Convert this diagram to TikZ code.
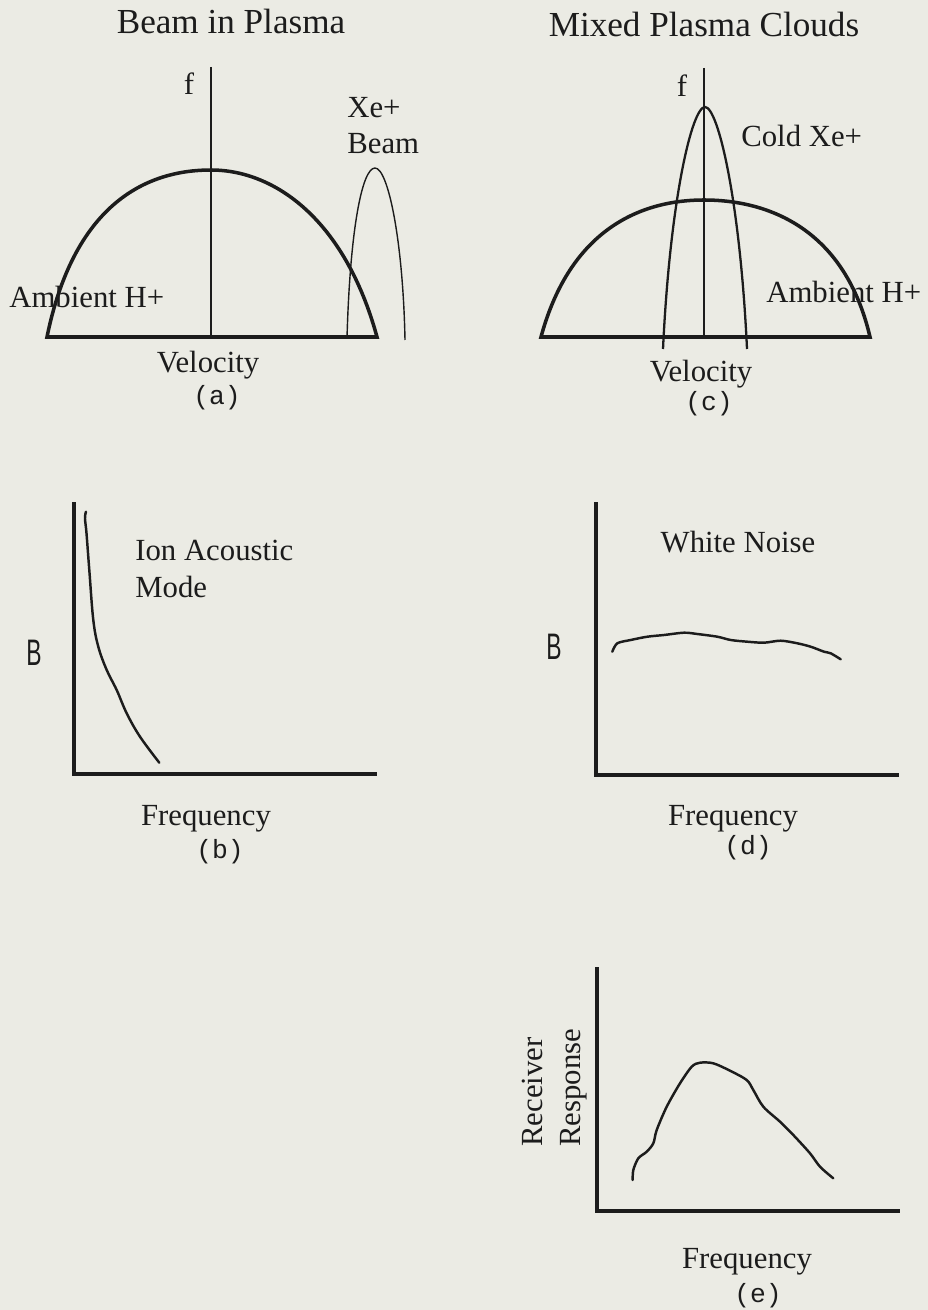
\documentclass[tikz,border=0pt]{standalone}
\usepackage{fontspec}
\setmainfont{Liberation Serif}
\newfontfamily\tagfont{Liberation Mono}
\newfontfamily\axfont[FakeStretch=0.62]{Liberation Sans}
\definecolor{paper}{RGB}{235,235,228}
\definecolor{ink}{RGB}{28,28,28}

\begin{document}
\begin{tikzpicture}[
    x=0.02cm, y=-0.02cm,
    ttl/.style={font=\fontsize{20}{24}\selectfont, inner sep=0pt, text=ink},
    lbl/.style={font=\fontsize{17.5}{21}\selectfont, inner sep=0pt, align=left, text=ink},
    tag/.style={font=\tagfont\fontsize{15}{17}\selectfont, inner sep=0pt, text=ink},
    ylab/.style={font=\axfont\fontsize{21}{23}\selectfont, inner sep=0pt, text=ink},
    hump/.style={draw=ink, line width=2pt, line join=miter},
    faxis/.style={draw=ink, line width=1.2pt},
    beamline/.style={draw=ink, line width=0.8pt},
    coldline/.style={draw=ink, line width=1.3pt},
    axes/.style={draw=ink, line width=1.9pt},
    trace/.style={draw=ink, line width=1.4pt, line join=round, line cap=round},
]
\useasboundingbox (0,0) rectangle (928,1310);
\fill[paper] (0,0) rectangle (928,1310);

% ---- (a) beam in plasma ----
\node[ttl, anchor=base] (ttlA) at (231,34) {Beam in Plasma};
\draw[hump] (47,337) .. controls (75,200) and (150,170) .. (211,170)
    .. controls (275,170) and (345,220) .. (377,337) -- cycle;
\draw[faxis] (211,67) -- (211,338);
\draw[beamline] (347,338) .. controls (350,230) and (362,168) .. (375,168)
    .. controls (388,168) and (403,240) .. (405,340);
\node[lbl, anchor=base] (fA) at (189,95) {f};
\node[lbl, anchor=base west] (xeA) at (347,154) {Xe+\\Beam};
\node[lbl, anchor=base west] (ambA) at (9,308) {Ambient H+};
\node[lbl, anchor=base] (velA) at (208,373) {Velocity};
\node[tag] (tagA) at (217,398) {(a)};

% ---- (c) mixed plasma clouds ----
\node[ttl, anchor=base] (ttlC) at (704,37) {Mixed Plasma Clouds};
\draw[hump] (541,337) .. controls (570,230) and (640,200) .. (704,200)
    .. controls (770,200) and (845,230) .. (870,337) -- cycle;
\draw[faxis] (704,68) -- (704,338);
\draw[coldline] (663,349) .. controls (670,200) and (692,107) .. (705,107)
    .. controls (718,107) and (740,200) .. (747,349);
\node[lbl, anchor=base] (fC) at (682,97) {f};
\node[lbl, anchor=base west] (coldC) at (741,147) {Cold Xe+};
\node[lbl, anchor=base west] (ambC) at (766,303) {Ambient H+};
\node[lbl, anchor=base] (velC) at (701,382) {Velocity};
\node[tag] (tagC) at (709,404) {(c)};

% ---- (b) ion acoustic mode ----
\draw[axes] (74,502) |- (377,774);
\draw[trace] plot[smooth, tension=0.6] coordinates {
    (86,511.7) (85,518.3) (86.5,533.3) (89.3,570) (93.3,620) (98.3,646.7)
    (106.7,670) (116.7,690) (126.7,713.3) (140,736.7) (159.3,762.7)};
\node[lbl, anchor=base west] (ionB) at (135,597) {Ion Acoustic\\Mode};
\node[ylab] (yB) at (34,653) {B};
\node[lbl, anchor=base] (freqB) at (206,825) {Frequency};
\node[tag] (tagB) at (220,852) {(b)};

% ---- (d) white noise ----
\draw[axes] (596,502) |- (899,775);
\draw[trace] plot[smooth, tension=0.5] coordinates {
    (612.3,651.7) (617.3,643.3) (630.7,640) (647.3,636.7) (664,635) (684,632.7)
    (697.3,634) (717.3,636.7) (730.7,640) (747.3,641.7) (764,642.7) (780.7,640.7)
    (797.3,643.3) (810.7,646.7) (824,651.7) (830.7,653.3) (840.7,659.3)};
\node[lbl, anchor=base] (noiseD) at (738,552) {White Noise};
\node[ylab] (yD) at (554,647) {B};
\node[lbl, anchor=base] (freqD) at (733,825) {Frequency};
\node[tag] (tagD) at (748,848) {(d)};

% ---- (e) receiver response ----
\draw[axes] (597,967) |- (900,1211);
\draw[trace] plot[smooth, tension=0.5] coordinates {
    (632.7,1180) (633.3,1170) (638.3,1158.3) (646.7,1151.7) (653.3,1143.3)
    (656.7,1130) (666.7,1106.7) (680,1083.3) (691.7,1066.7) (700,1062.7)
    (713.3,1063.3) (730,1070.7) (746.7,1080) (753.3,1090) (763.3,1106.7)
    (780,1121.7) (793.3,1135) (810,1153.3) (820,1166.7) (833.3,1178.3)};
\node[lbl, rotate=90, anchor=base west] (recE) at (542,1147) {Receiver};
\node[lbl, rotate=90, anchor=base west] (resE) at (580,1147) {Response};
\node[lbl, anchor=base] (freqE) at (747,1268) {Frequency};
\node[tag] (tagE) at (758,1296) {(e)};
\end{tikzpicture}
\end{document}
